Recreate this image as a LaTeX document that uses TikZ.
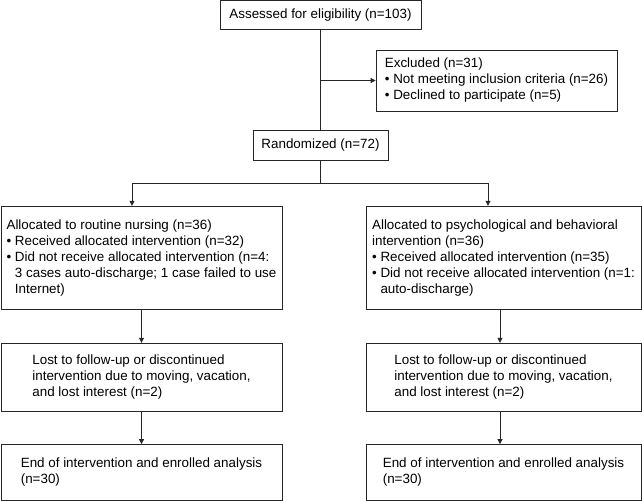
\documentclass[tikz,border=0pt]{standalone}
\usepackage{fontspec}
\setmainfont{Liberation Sans}
\usetikzlibrary{arrows.meta}

\newcommand{\bul}{\textbullet\ }
\newcommand{\bulind}{\hphantom{\textbullet\ }}

\begin{document}
\begin{tikzpicture}[x=1pt,y=-1pt,->,>={Triangle[length=5pt,width=5pt]},draw=black!85,line width=0.8pt,
    box/.style={shape=rectangle,draw=black!85,align=left,inner sep=2pt,font=\fontsize{13.4}{16}\selectfont}]
                \useasboundingbox (0,0) rectangle (642,501);
                \node[box,minimum width=201,minimum height=29](assess)at(320.5, 15){Assessed for eligibility (n=103)};
                \node[box,minimum width=241,minimum height=61](excl)at(496.5, 80.5){Excluded (n=31)\\\bul Not meeting inclusion criteria (n=26)\\\bul Declined to participate (n=5)};
                \node[box,minimum width=135,minimum height=30](rand)at(320.5, 145){Randomized (n=72)};
                \node[box,minimum width=281,minimum height=103](allocL)at(141.5, 257.7){Allocated to routine nursing (n=36)\\\bul Received allocated intervention (n=32)\\\bul Did not receive allocated intervention (n=4:\\\bulind 3 cases auto-discharge; 1 case failed to use\\\bulind Internet)};
                \node[box,minimum width=275,minimum height=103](allocR)at(503.5, 257.7){Allocated to psychological and behavioral\\intervention (n=36)\\\bul Received allocated intervention (n=35)\\\bul Did not receive allocated intervention (n=1:\\\bulind auto-discharge)};
                \node[box,minimum width=281,minimum height=68](lostL)at(141.5, 377.2){Lost to follow-up or discontinued\\intervention due to moving, vacation,\\and lost interest (n=2)};
                \node[box,minimum width=275,minimum height=68](lostR)at(503.5, 377.2){Lost to follow-up or discontinued\\intervention due to moving, vacation,\\and lost interest (n=2)};
                \node[box,minimum width=281,minimum height=56](endL)at(141.5, 472.5){End of intervention and enrolled analysis\\(n=30)};
                \node[box,minimum width=275,minimum height=56](endR)at(503.5, 472.5){End of intervention and enrolled analysis\\(n=30)};
                \coordinate (split) at (320.5, 183.3);
                % screening
                \path[-](assess.south) edge (rand.north);
                \path(assess.south |- excl.west) edge (excl.west);
                % allocation
                \draw[-](rand.south) -- (split);
                \draw(split) -| ([xshift=-9.5]allocL.north);
                \draw(split) -| ([xshift=-15.5]allocR.north);
                % follow-up and analysis
                \path(allocL.south) edge (lostL.north)
                (lostL.south) edge (endL.north)
                ([xshift=-3.5]allocR.south) edge ([xshift=-3.5]lostR.north)
                ([xshift=-3.5]lostR.south) edge ([xshift=-3.5]endR.north);
            \end{tikzpicture}
\end{document}
